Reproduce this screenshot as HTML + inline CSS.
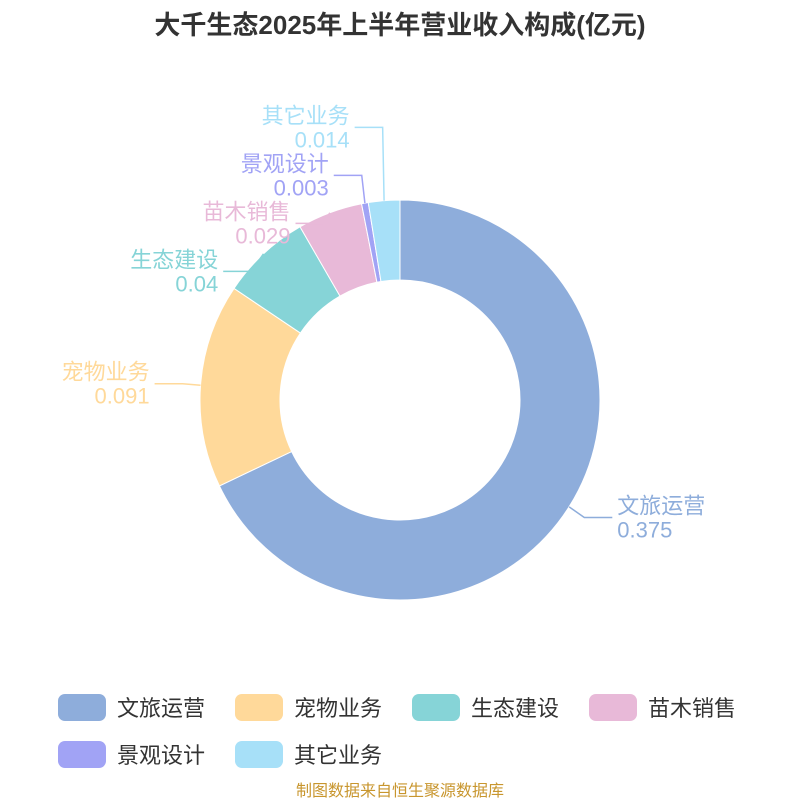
<!DOCTYPE html>
<html><head><meta charset="utf-8">
<style>body{margin:0;background:#fff}svg text{font-family:"Liberation Sans","Noto Sans CJK SC",sans-serif}</style>
</head><body>
<svg id="c" width="800" height="800">
<text x="400" y="34" text-anchor="middle" font-size="26" font-weight="bold" fill="#333">大千生态2025年上半年营业收入构成(亿元)</text>
<g id="slices"></g><g id="labels"></g><g id="legend"></g>
<text x="400" y="796" text-anchor="middle" font-size="16" fill="#c8962e">制图数据来自恒生聚源数据库</text>
</svg>
<script>
const categories=["文旅运营","宠物业务","生态建设","苗木销售","景观设计","其它业务"];
const values=[0.375,0.091,0.04,0.029,0.003,0.014];
const valueLabels=["0.375","0.091","0.04","0.029","0.003","0.014"];
const colors=["#8eaddb","#ffd99a","#86d4d7","#e8b9d8","#a1a3f5","#a7e0f8"];
const NS="http://www.w3.org/2000/svg",cx=400,cy=400,R=200,r=120;
function mk(t,a,p){const e=document.createElementNS(NS,t);for(const k in a)e.setAttribute(k,a[k]);p.appendChild(e);return e;}
const total=values.reduce((a,b)=>a+b,0);
const pt=(ang,rad)=>[cx+rad*Math.sin(ang),cy-rad*Math.cos(ang)];
let acc=0;const labs=[];
const sg=document.getElementById('slices');
values.forEach((v,i)=>{
 const a0=acc/total*2*Math.PI;acc+=v;const a1=acc/total*2*Math.PI;
 const lg=(a1-a0)>Math.PI?1:0;
 const [x0,y0]=pt(a0,R),[x1,y1]=pt(a1,R),[x2,y2]=pt(a1,r),[x3,y3]=pt(a0,r);
 const p=mk('path',{d:`M${x0},${y0}A${R},${R} 0 ${lg} 1 ${x1},${y1}L${x2},${y2}A${r},${r} 0 ${lg} 0 ${x3},${y3}Z`,fill:colors[i],stroke:'#fff','stroke-width':1},sg);
 
 
 const m=(a0+a1)/2;const an=pt(m,R);const nat=pt(m,R+20);
 labs.push({i,m,an,y:nat[1],left:Math.sin(m)<0});
});
// resolve overlap per side
[true,false].forEach(side=>{
 const L=labs.filter(l=>l.left===side).sort((a,b)=>a.y-b.y);
 let cl=L.map(l=>({items:[l],mean:l.y}));
 const gap=48;let changed=true;
 const pos=c=>{const n=c.items.length;const top=c.mean-(n-1)*gap/2;return [top,top+(n-1)*gap];};
 while(changed){changed=false;
  for(let k=0;k<cl.length-1;k++){
   if(pos(cl[k])[1]+gap>pos(cl[k+1])[0]){
    const items=cl[k].items.concat(cl[k+1].items);
    cl.splice(k,2,{items,mean:items.reduce((s,l)=>s+l.y,0)/items.length});changed=true;break;}}}
 cl.forEach(c=>{const [t]=pos(c);c.items.forEach((l,j)=>l.ly=t+j*gap);});
});
const lg2=document.getElementById('labels');
labs.forEach(l=>{
 const s=l.left?-1:1;const ex=l.an[0]+Math.sin(l.m)*18;const hx=ex+s*28;
 const pl=mk('polyline',{points:`${l.an[0]},${l.an[1]} ${ex},${l.ly} ${hx},${l.ly}`,fill:'none',stroke:colors[l.i],'stroke-width':1.5},lg2);
 
 
 const tx=hx+s*5,anc=l.left?'end':'start';
 const t1=mk('text',{x:tx,y:l.ly-4,'text-anchor':anc,'font-size':22,fill:colors[l.i]},lg2);t1.textContent=categories[l.i];
 
 
 const t2=mk('text',{x:tx,y:l.ly+20,'text-anchor':anc,'font-size':22,fill:colors[l.i]},lg2);t2.textContent=valueLabels[l.i];
 
 
});
const leg=document.getElementById('legend');
categories.forEach((c,i)=>{
 const x=58+(i%4)*177,y=i<4?694:741;
 const g=mk('g',{},leg);
 
 
 mk('rect',{x,y,width:48,height:27,rx:7,fill:colors[i]},g);
 const t=mk('text',{x:x+59,y:y+22,'font-size':22,fill:'#333'},g);t.textContent=c;
});
</script>
</body></html>
